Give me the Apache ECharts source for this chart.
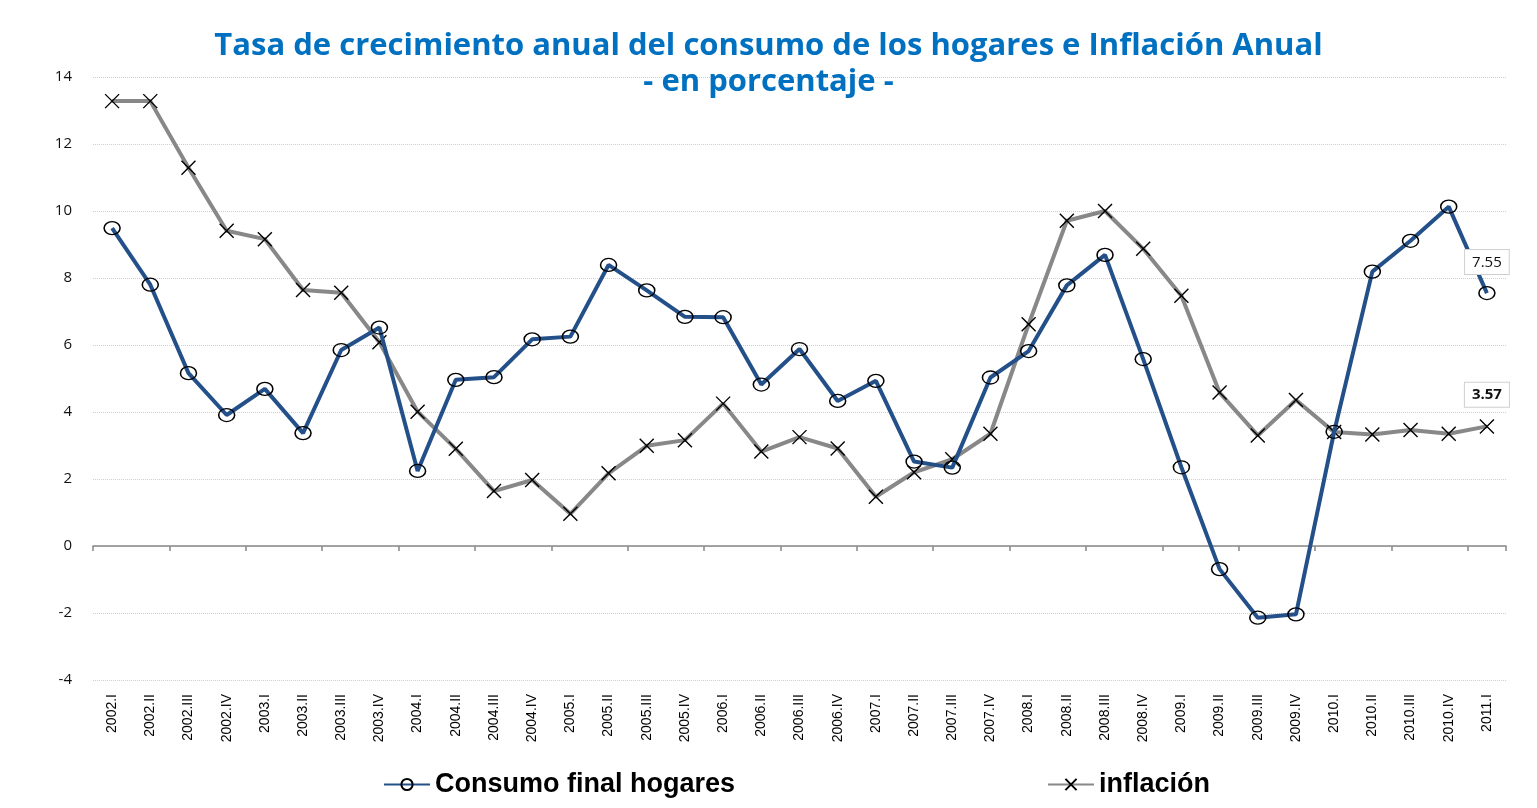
<!DOCTYPE html>
<html>
<head>
<meta charset="utf-8">
<script src="https://cdn.jsdelivr.net/npm/echarts@6/dist/echarts.min.js"></script>
<style>
  html, body { margin: 0; padding: 0; background: #fff; }
  #chart { width: 1537px; height: 808px; }
</style>
</head>
<body>
<div id="chart"></div>
<script>
const quarters = [
    '2002.I', '2002.II', '2002.III', '2002.IV',
    '2003.I', '2003.II', '2003.III', '2003.IV',
    '2004.I', '2004.II', '2004.III', '2004.IV',
    '2005.I', '2005.II', '2005.III', '2005.IV',
    '2006.I', '2006.II', '2006.III', '2006.IV',
    '2007.I', '2007.II', '2007.III', '2007.IV',
    '2008.I', '2008.II', '2008.III', '2008.IV',
    '2009.I', '2009.II', '2009.III', '2009.IV',
    '2010.I', '2010.II', '2010.III', '2010.IV',
    '2011.I'
];

const consumo = [
    9.49, 7.80, 5.16, 3.91,
    4.69, 3.37, 5.85, 6.52,
    2.24, 4.96, 5.04, 6.17,
    6.25, 8.39, 7.63, 6.84,
    6.83, 4.82, 5.88, 4.33,
    4.93, 2.52, 2.34, 5.03,
    5.82, 7.78, 8.69, 5.58,
    2.35, -0.69, -2.14, -2.04,
    3.41, 8.19, 9.11, 10.13,
    7.55
];

const inflacion = [
    13.28, 13.28, 11.29, 9.41,
    9.16, 7.64, 7.56, 6.08,
    4.01, 2.90, 1.64, 1.97,
    0.96, 2.17, 2.99, 3.16,
    4.25, 2.82, 3.25, 2.91,
    1.47, 2.20, 2.59, 3.35,
    6.62, 9.71, 10.00, 8.87,
    7.47, 4.58, 3.30, 4.36,
    3.40, 3.33, 3.46, 3.35,
    3.57
];

const CROSS = 'path://M0,0L10,10M10,0L0,10';

// only the last point of each series carries a boxed label
function lastPointLabel(values, bold) {
    return values.map((v, i) => {
        if (i !== values.length - 1) return v;
        return {
            value: v,
            label: {
                show: true,
                position: 'top',
                distance: 12,
                formatter: v.toFixed(2),
                fontFamily: 'Open Sans',
                fontSize: 15,
                fontWeight: bold ? 'bold' : 'normal',
                color: '#111',
                backgroundColor: '#fff',
                borderColor: '#d0d0d0',
                borderWidth: 1,
                padding: [5, 7, 4, 7]
            }
        };
    });
}

const legendText = { fontFamily: 'Liberation Sans', fontSize: 27, fontWeight: 'bold', color: '#000' };

const chart = echarts.init(document.getElementById('chart'));
chart.setOption({
    animation: false,
    title: {
        text: 'Tasa de crecimiento anual del consumo de los hogares e Inflación Anual\n- en porcentaje -',
        left: 'center',
        top: 23,
        textStyle: {
            fontFamily: 'Open Sans',
            fontSize: 31,
            fontWeight: 'bold',
            lineHeight: 36,
            color: '#0070C0'
        }
    },
    legend: [
        {
            data: ['Consumo final hogares'],
            left: 378,
            top: 766,
            itemWidth: 46,
            itemHeight: 14,
            textStyle: legendText
        },
        {
            data: ['inflación'],
            left: 1042,
            top: 766,
            itemWidth: 46,
            itemHeight: 14,
            textStyle: legendText
        }
    ],
    grid: {
        left: 93,
        right: 31,
        top: 77,
        bottom: 128
    },
    xAxis: [
        {
            // axis line with ticks, sitting on zero
            type: 'category',
            data: quarters,
            position: 'bottom',
            axisLine: { onZero: true, lineStyle: { color: '#888', width: 1.5 } },
            axisTick: { show: true, length: 5, lineStyle: { color: '#888', width: 1.5 } },
            axisLabel: { show: false }
        },
        {
            // labels at the bottom of the plot
            type: 'category',
            data: quarters,
            position: 'bottom',
            axisLine: { show: false, onZero: false },
            axisTick: { show: false },
            axisLabel: {
                rotate: 90,
                margin: 14,
                interval: 0,
                fontFamily: 'Liberation Sans',
                fontSize: 14,
                color: '#000'
            }
        }
    ],
    yAxis: {
        type: 'value',
        min: -4,
        max: 14,
        interval: 2,
        axisLine: { show: false },
        axisTick: { show: false },
        axisLabel: {
            margin: 21,
            fontFamily: 'Open Sans',
            fontSize: 15,
            color: '#111'
        },
        splitLine: { lineStyle: { color: '#cfcfcf', type: 'dotted', width: 1 } }
    },
    series: [
        {
            name: 'Consumo final hogares',
            type: 'line',
            xAxisIndex: 0,
            data: lastPointLabel(consumo, false),
            symbol: 'circle',
            symbolSize: [16, 13],
            z: 3,
            lineStyle: { color: '#24508A', width: 4 },
            itemStyle: { color: 'rgba(255,255,255,0)', borderColor: '#000', borderWidth: 1.4 }
        },
        {
            name: 'inflación',
            type: 'line',
            xAxisIndex: 0,
            data: lastPointLabel(inflacion, true),
            symbol: CROSS,
            symbolSize: 14,
            z: 2,
            lineStyle: { color: '#888888', width: 4 },
            itemStyle: { color: 'rgba(255,255,255,0)', borderColor: '#000', borderWidth: 1.4 }
        }
    ]
});
</script>
</body>
</html>
